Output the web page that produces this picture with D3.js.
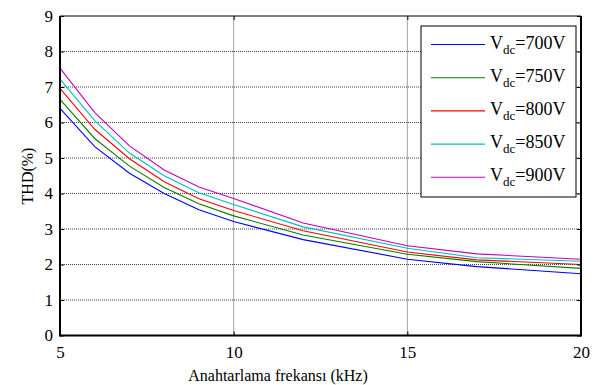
<!DOCTYPE html>
<html lang="tr">
<head>
    <meta charset="UTF-8">
    <title>THD vs anahtarlama frekansı</title>
    <script src="https://d3js.org/d3.v7.min.js"></script>
    <style>
        body {
            margin: 0;
            padding: 0;
            background: #fff;
        }
        svg text {
            font-family: "Liberation Serif", "Times New Roman", serif;
            fill: #000;
        }
    </style>
</head>
<body>
    <div id="chart"></div>
    <script>
        // Data
        const freqs = [5, 6, 7, 8, 9, 10, 12, 15, 17, 20];
        const vdcLabels = ['700V', '750V', '800V', '850V', '900V'];
        const thd700 = [6.40, 5.32, 4.57, 4.00, 3.54, 3.21, 2.70, 2.15, 1.94, 1.74];
        const thd750 = [6.65, 5.55, 4.77, 4.17, 3.71, 3.37, 2.83, 2.29, 2.08, 1.89];
        const thd800 = [6.96, 5.81, 4.98, 4.33, 3.85, 3.52, 2.95, 2.35, 2.13, 2.00];
        const thd850 = [7.22, 6.05, 5.14, 4.50, 4.02, 3.69, 3.06, 2.46, 2.19, 2.09];
        const thd900 = [7.53, 6.28, 5.34, 4.66, 4.18, 3.86, 3.17, 2.53, 2.30, 2.15];
        const xTicks = [5, 10, 15, 20];
        const yTicks = [0, 1, 2, 3, 4, 5, 6, 7, 8, 9];

        const seriesValues = [thd700, thd750, thd800, thd850, thd900];
        const colors = ['#0000ff', '#008000', '#ff0000', '#00bfbf', '#bf00bf'];
        const serif = '"Liberation Serif", "Times New Roman", serif';

        const width = 599, height = 385;
        const margin = { top: 16, right: 18, bottom: 49.5, left: 60 };

        const svg = d3.select('#chart')
            .append('svg')
            .attr('width', width)
            .attr('height', height);

        const x = d3.scaleLinear()
            .domain([5, 20])
            .range([margin.left, width - margin.right]);

        const y = d3.scaleLinear()
            .domain([0, 9])
            .range([height - margin.bottom, margin.top]);

        const x0 = x.range()[0], x1 = x.range()[1];
        const y0 = y.range()[0], y1 = y.range()[1];

        // Grid lines (dotted)
        svg.append('g')
            .selectAll('line')
            .data(yTicks.slice(1, -1))
            .join('line')
            .attr('x1', x0).attr('x2', x1)
            .attr('y1', d => y(d)).attr('y2', d => y(d))
            .attr('stroke', '#444')
            .attr('stroke-width', 1)
            .attr('stroke-dasharray', '1,1');

        svg.append('g')
            .selectAll('line')
            .data(xTicks.slice(1, -1))
            .join('line')
            .attr('x1', d => x(d)).attr('x2', d => x(d))
            .attr('y1', y0).attr('y2', y1)
            .attr('stroke', '#444')
            .attr('stroke-width', 1)
            .attr('stroke-dasharray', '1,1');

        // Lines
        const line = d3.line()
            .x((d, i) => x(freqs[i]))
            .y(d => y(d));

        svg.append('g')
            .selectAll('path')
            .data(seriesValues)
            .join('path')
            .attr('d', d => line(d))
            .attr('fill', 'none')
            .attr('stroke', (d, i) => colors[i])
            .attr('stroke-width', 1.1);

        // Axes (ticks inward, on all four sides)
        const tickLen = 4;

        svg.append('g')
            .attr('transform', `translate(0,${y0})`)
            .attr('font-family', serif)
            .call(d3.axisBottom(x).tickValues(xTicks).tickSize(-tickLen).tickPadding(10))
            .call(g => g.select('.domain').remove())
            .call(g => g.selectAll('text').attr('font-size', 17).attr('dy', '0.71em'));

        svg.append('g')
            .attr('transform', `translate(0,${y1})`)
            .call(d3.axisTop(x).tickValues(xTicks).tickSize(-tickLen).tickFormat(''))
            .call(g => g.select('.domain').remove());

        svg.append('g')
            .attr('transform', `translate(${x0},0)`)
            .attr('font-family', serif)
            .call(d3.axisLeft(y).tickValues(yTicks).tickSize(-tickLen).tickPadding(7))
            .call(g => g.select('.domain').remove())
            .call(g => g.selectAll('text').attr('font-size', 17));

        svg.append('g')
            .attr('transform', `translate(${x1},0)`)
            .call(d3.axisRight(y).tickValues(yTicks).tickSize(-tickLen).tickFormat(''))
            .call(g => g.select('.domain').remove());

        svg.selectAll('.tick line').attr('stroke', '#000');

        // Frame
        svg.append('line').attr('x1', x0).attr('x2', x1).attr('y1', y1).attr('y2', y1)
            .attr('stroke', '#000').attr('stroke-width', 1);
        svg.append('line').attr('x1', x0).attr('x2', x1).attr('y1', y0).attr('y2', y0)
            .attr('stroke', '#000').attr('stroke-width', 2);
        svg.append('line').attr('x1', x0).attr('x2', x0).attr('y1', y1).attr('y2', y0 + 1)
            .attr('stroke', '#000').attr('stroke-width', 2);
        svg.append('line').attr('x1', x1).attr('x2', x1).attr('y1', y1).attr('y2', y0 + 1)
            .attr('stroke', '#000').attr('stroke-width', 2);

        // Axis labels
        svg.append('text')
            .attr('x', 278)
            .attr('y', 381)
            .attr('text-anchor', 'middle')
            .attr('font-size', 16)
            .text('Anahtarlama frekansı (kHz)');

        svg.append('text')
            .attr('transform', 'rotate(-90)')
            .attr('x', -176)
            .attr('y', 33)
            .attr('text-anchor', 'middle')
            .attr('font-size', 16)
            .text('THD(%)');

        // Legend
        const legend = svg.append('g');
        legend.append('rect')
            .attr('x', 421).attr('y', 26)
            .attr('width', 155).attr('height', 171)
            .attr('fill', '#fff')
            .attr('stroke', '#000')
            .attr('stroke-width', 1);

        const items = legend.selectAll('g.item')
            .data(vdcLabels)
            .join('g')
            .attr('class', 'item')
            .attr('transform', (d, i) => `translate(0,${44.5 + i * 33.2})`);

        items.append('line')
            .attr('x1', 431).attr('x2', 485)
            .attr('y1', 0).attr('y2', 0)
            .attr('stroke', (d, i) => colors[i])
            .attr('stroke-width', 1.1);

        const label = items.append('text')
            .attr('x', 490)
            .attr('y', 4)
            .attr('font-size', 18);
        label.append('tspan').text('V');
        label.append('tspan').attr('font-size', 13).attr('dy', 5).text('dc');
        label.append('tspan').attr('dy', -5).text(d => '=' + d);
    </script>
</body>
</html>
